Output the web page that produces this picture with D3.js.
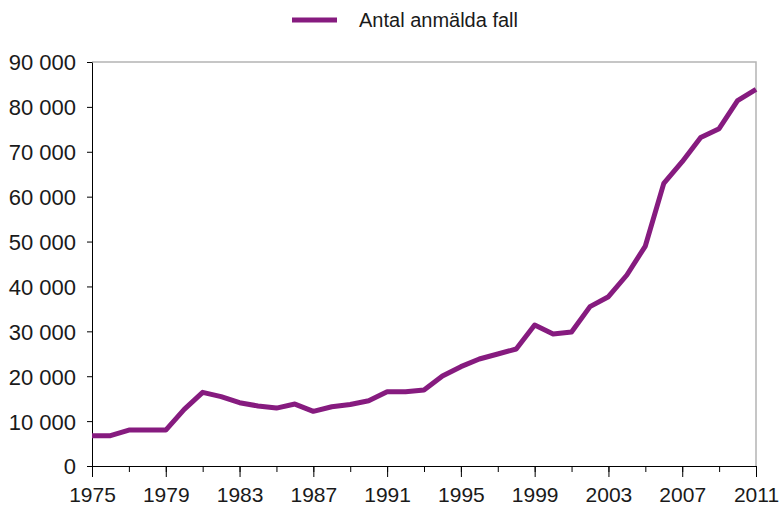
<!DOCTYPE html>
<meta charset='utf-8'>
<style>
  body { margin:0; background:#fff; }
  text { font-family:'Liberation Sans', Arial, sans-serif; fill:#1a1a1a; }
  .frame { fill:none; stroke:#b4b4b4; stroke-width:1.5px; }
  .axis path, .axis line { stroke:#000; stroke-width:1px; }
</style>
<body>
  <script src='https://d3js.org/d3.v7.min.js' charset='utf-8'></script>
  <script>
    var width = 779;
    var height = 508;

    // data ---------------------------------------------------------------
    var years = d3.range(1975, 2012);
    var cases = [
      6750, 6750, 8000, 8000, 8000, 12600, 16400, 15450, 14100, 13370,
      12900, 13800, 12180, 13200, 13700, 14550, 16550, 16550, 16930, 20050,
      22130, 23840, 24950, 26060, 31410, 29400, 29850, 35500, 37720, 42550,
      49000, 62970, 67800, 73200, 75150, 81400, 83900
    ];
    var yTicks = [0, 10000, 20000, 30000, 40000, 50000, 60000, 70000, 80000, 90000];
    var xMajor = [1975, 1979, 1983, 1987, 1991, 1995, 1999, 2003, 2007, 2011];
    var xMinor = d3.range(1975, 2012, 2);
    var seriesName = 'Antal anmälda fall';

    var svg = d3.select('body').append('svg')
      .attr('width', width)
      .attr('height', height);

    var x = d3.scaleLinear().domain([1975, 2011]).range([92, 756]);
    var y = d3.scaleLinear().domain([0, 90000]).range([466, 62]);

    var locale = d3.formatLocale({decimal:',', thousands:' ', grouping:[3], currency:['', '']});
    var fmt = locale.format(',');

    // frame (top and right) ------------------------------------------------
    svg.append('path')
      .attr('class', 'frame')
      .attr('d', 'M' + x(1975) + ',' + y(90000) + 'H' + x(2011) + 'V' + y(0));

    // axes ---------------------------------------------------------------
    var yAxis = svg.append('g')
      .attr('class', 'axis')
      .attr('transform', 'translate(' + x(1975) + ',0)')
      .call(d3.axisLeft(y).tickValues(yTicks).tickSize(5).tickPadding(11).tickFormat(fmt).tickSizeOuter(0));
    yAxis.selectAll('text').style('font-size', '22px').attr('dy', '0.36em');

    svg.append('g')
      .attr('class', 'axis')
      .attr('transform', 'translate(0,' + y(0) + ')')
      .call(d3.axisBottom(x).tickValues(xMinor).tickSize(6).tickFormat('').tickSizeOuter(0));

    var xAxis = svg.append('g')
      .attr('class', 'axis')
      .attr('transform', 'translate(0,' + y(0) + ')')
      .call(d3.axisBottom(x).tickValues(xMajor).tickSize(11).tickFormat(d3.format('d')).tickSizeOuter(0));
    xAxis.selectAll('text').style('font-size', '21px').attr('y', 21);

    // line ---------------------------------------------------------------
    var line = d3.line()
      .x(function(d, i) { return x(years[i]); })
      .y(function(d) { return y(d); });

    svg.append('path')
      .datum(cases)
      .attr('fill', 'none')
      .attr('stroke', '#861b7f')
      .attr('stroke-width', 5)
      .attr('stroke-linejoin', 'round')
      .attr('d', line);

    // legend -------------------------------------------------------------
    var legend = svg.append('g');
    legend.append('line')
      .attr('x1', 292).attr('x2', 337)
      .attr('y1', 20).attr('y2', 20)
      .attr('stroke', '#861b7f')
      .attr('stroke-width', 5);
    legend.append('text')
      .attr('x', 359).attr('y', 27)
      .style('font-size', '20px')
      .text(seriesName);
  </script>
</body>
